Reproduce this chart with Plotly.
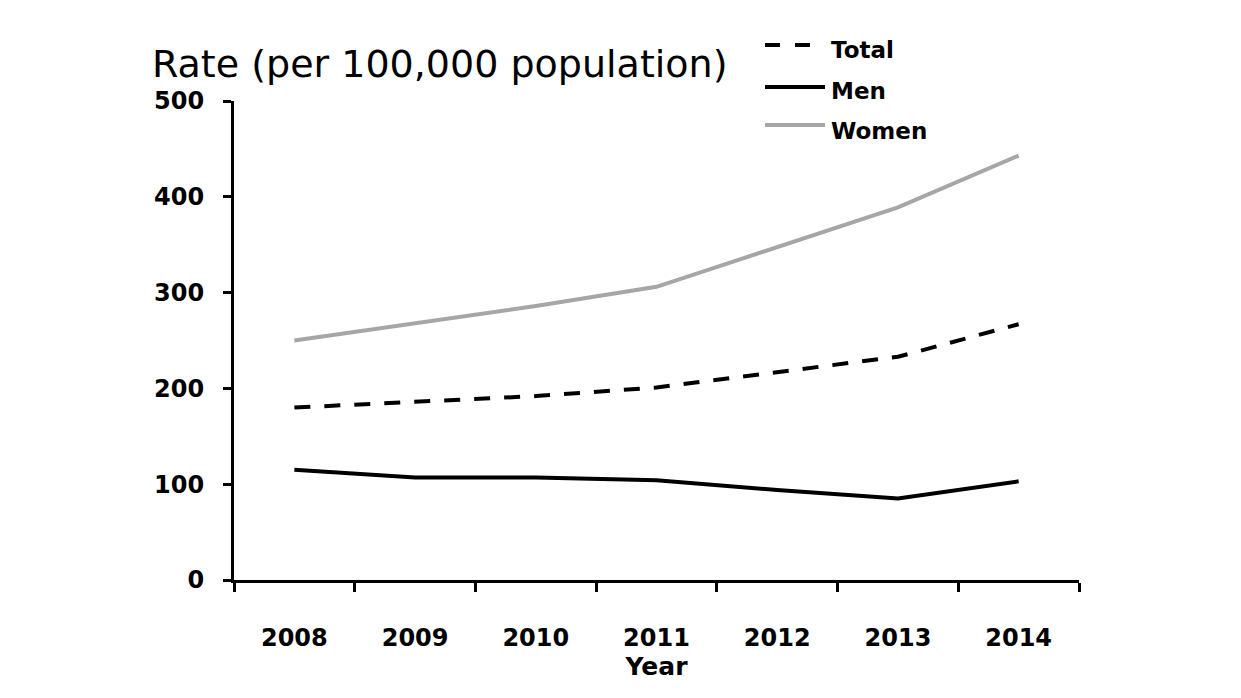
import plotly.graph_objects as go

years = ["2008", "2009", "2010", "2011", "2012", "2013", "2014"]
total = [180, 186, 192, 201, 217, 233, 267]
men = [115, 107, 107, 104, 94, 85, 103]
women = [250, 268, 286, 306, 347, 389, 443]
y_ticks = [0, 100, 200, 300, 400, 500]
series_names = ["Total", "Men", "Women"]

styles = {
    "Total": dict(color="black", width=4, dash="16px,14px"),
    "Men": dict(color="black", width=4),
    "Women": dict(color="#A6A6A6", width=4),
}

fig = go.Figure()
for name, vals in zip(series_names, [total, men, women]):
    fig.add_trace(go.Scatter(x=years, y=vals, name=name, mode="lines",
                             line=styles[name], showlegend=False))

# plot area in screen px (reference)
PX0, PX1, PY0, PY1 = 234, 1079, 101, 580
PW, PH = PX1 - PX0, PY1 - PY0
BODY = 8  # page body margin


def px(x):
    return (x - PX0) / PW


def py(y):
    return (PY1 - y) / PH


tickfont = dict(family="DejaVu Sans", size=24, color="black", weight="bold")

fig.update_layout(
    width=1241, height=698,
    margin=dict(l=PX0 - BODY, r=1241 - PX1 + BODY, t=PY0 - BODY, b=698 - PY1 + BODY),
    paper_bgcolor="white", plot_bgcolor="white",
    showlegend=False,
    xaxis=dict(type="category", range=[-0.5, 6.5], showline=True, linecolor="black", linewidth=3,
               ticks="outside", tickson="boundaries", ticklen=9, tickwidth=3, tickcolor="black",
               showgrid=False, zeroline=False, tickfont=tickfont, ticklabelstandoff=34,
               title=dict(text="Year", font=dict(family="DejaVu Sans", size=25, color="black", weight="bold"),
                          standoff=6)),
    yaxis=dict(range=[0, 500], tickvals=y_ticks, showline=True, linecolor="black", linewidth=3,
               ticks="outside", ticklen=8, tickwidth=3, tickcolor="black",
               showgrid=False, zeroline=False, tickfont=tickfont, ticklabelstandoff=14),
)

# manual legend
legend_rows = [45, 87, 125]
legend_text_y = [50, 91, 131]
for name, ly, ty in zip(series_names, legend_rows, legend_text_y):
    st = styles[name]
    dash = "15px,15px" if name == "Total" else "solid"
    fig.add_shape(type="line", xref="paper", yref="paper",
                  x0=px(765), x1=px(825), y0=py(ly), y1=py(ly),
                  line=dict(color=st["color"], width=st["width"], dash=dash))
    fig.add_annotation(text=name, xref="paper", yref="paper", x=px(829), y=py(ty),
                       xanchor="left", yanchor="middle", showarrow=False,
                       font=dict(family="DejaVu Sans", size=23, color="black", weight="bold"))

fig.add_annotation(text="Rate (per 100,000 population)", xref="paper", yref="paper",
                   x=px(150), y=py(64), xanchor="left", yanchor="middle", showarrow=False,
                   font=dict(family="DejaVu Sans", size=38, color="black"))

fig.write_html("out.html")
